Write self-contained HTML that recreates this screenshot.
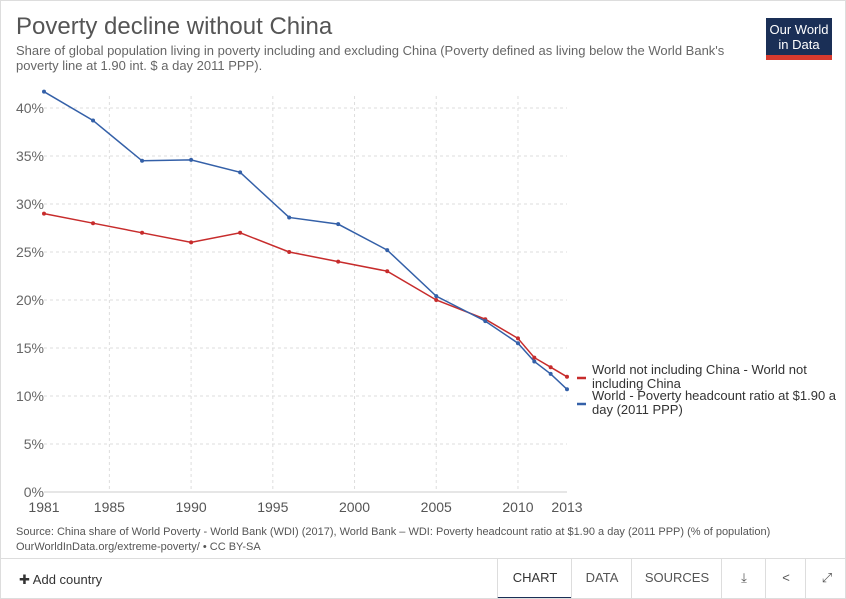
<!DOCTYPE html>
<html><head><meta charset="utf-8"><style>
body{margin:0;background:#fff;font-family:"Liberation Sans",sans-serif;}
#wrap{position:relative;width:846px;height:599px;overflow:hidden;border:1px solid #ddd;box-sizing:border-box}
.t{position:absolute;white-space:nowrap}
</style></head><body>
<div id="wrap">
<div class="t" style="left:15px;top:12px;font-size:24px;color:#555">Poverty decline without China</div>
<div class="t" style="left:15px;top:42px;font-size:13px;color:#666;line-height:15px">Share of global population living in poverty including and excluding China (Poverty defined as living below the World Bank's<br>poverty line at 1.90 int. $ a day 2011 PPP).</div>
<div style="position:absolute;left:765px;top:17px;width:66px;height:42px;background:#1a2f56;color:#fff;font-size:13px;line-height:15px;text-align:center;box-sizing:border-box;padding-top:4px;border-bottom:5px solid #d73a2e">Our World<br>in Data</div>
<svg id="chart" width="846" height="520" style="position:absolute;left:0;top:0"></svg>
<div class="t" style="left:15px;top:524px;font-size:11px;color:#555;line-height:15px">Source: China share of World Poverty - World Bank (WDI) (2017), World Bank – WDI: Poverty headcount ratio at $1.90 a day (2011 PPP) (% of population)<br>OurWorldInData.org/extreme-poverty/ • CC BY-SA</div>
<div style="position:absolute;left:0;top:557px;width:846px;height:42px;border-top:1px solid #ddd;background:#fff">
<div class="t" style="left:18px;top:13px;font-size:13px;color:#333">✚ Add country</div>
<div class="t" style="left:496px;top:0;width:74px;height:38px;line-height:38px;text-align:center;font-size:13px;color:#333;border-left:1px solid #ddd;border-bottom:3px solid #1a2f56">CHART</div>
<div class="t" style="left:570px;top:0;width:60px;height:41px;line-height:38px;text-align:center;font-size:13px;color:#555;border-left:1px solid #ddd">DATA</div>
<div class="t" style="left:630px;top:0;width:90px;height:41px;line-height:38px;text-align:center;font-size:13px;color:#555;border-left:1px solid #ddd">SOURCES</div>
<div class="t" style="left:720px;top:0;width:44px;height:41px;line-height:38px;text-align:center;font-size:13px;color:#555;border-left:1px solid #ddd">⤓</div>
<div class="t" style="left:764px;top:0;width:40px;height:41px;line-height:38px;text-align:center;font-size:13px;color:#555;border-left:1px solid #ddd">&lt;</div>
<div class="t" style="left:804px;top:0;width:42px;height:41px;line-height:38px;text-align:center;font-size:13px;color:#555;border-left:1px solid #ddd">⤢</div>
</div>
</div>
<script>
const years=[1981,1984,1987,1990,1993,1996,1999,2002,2005,2008,2010,2011,2012,2013];
const redVals=[29,28,27,26,27,25,24,23,20,18,16,14,13,12];
const blueVals=[41.7,38.7,34.5,34.6,33.3,28.6,27.9,25.2,20.4,17.8,15.5,13.6,12.3,10.7];
const yTicks=[0,5,10,15,20,25,30,35,40];
const xTicks=[1981,1985,1990,1995,2000,2005,2010,2013];
const NS='http://www.w3.org/2000/svg';
const svg=document.getElementById('chart');
const x=v=>43+(v-1981)*(566-43)/32;
const y=v=>491-v*(491-107)/40;
function mk(t,a){const e=document.createElementNS(NS,t);for(const k in a)e.setAttribute(k,a[k]);svg.appendChild(e);return e;}
yTicks.forEach(v=>{
 const g=mk('line',{x1:43,x2:566,y1:y(v),y2:y(v),stroke:v?'#ddd':'#ccc','stroke-dasharray':v?'3,3':''});
 
 
 const t=mk('text',{x:43,y:y(v)+5,'text-anchor':'end','font-size':14,fill:'#666'});
 t.textContent=v+'%';
 
 
});
xTicks.forEach(v=>{
 if(v!==1981&&v!==2013){const g=mk('line',{x1:x(v),x2:x(v),y1:95,y2:491,stroke:'#ddd','stroke-dasharray':'3,3'});
 
 }
 const t=mk('text',{x:x(v),y:511,'text-anchor':'middle','font-size':14,fill:'#555'});
 t.textContent=v;
 
 
});
function series(vals,color,name){
 const p=mk('polyline',{points:vals.map((v,i)=>x(years[i])+','+y(v)).join(' '),fill:'none',stroke:color,'stroke-width':1.5});
 
 
 vals.forEach((v,i)=>{const c=mk('circle',{cx:x(years[i]),cy:y(v),r:2,fill:color});
 
 });
}
series(redVals,'#c72c2c','world-excl-china');
series(blueVals,'#3460a8','world');
function legend(yy,color,l1,l2,name){
 const m=mk('line',{x1:576,x2:585,y1:yy,y2:yy,stroke:color,'stroke-width':2.5});
 
 
 const t=mk('text',{x:591,y:yy-4,'font-size':13,fill:'#333'});
 
 
 [l1,l2].forEach((s,i)=>{const ts=document.createElementNS(NS,'tspan');ts.setAttribute('x',591);ts.setAttribute('dy',i?14:0);ts.textContent=s;t.appendChild(ts);});
}
legend(377,'#c72c2c','World not including China - World not','including China','world-excl-china');
legend(403,'#3460a8','World - Poverty headcount ratio at $1.90 a','day (2011 PPP)','world');
</script>
</body></html>
